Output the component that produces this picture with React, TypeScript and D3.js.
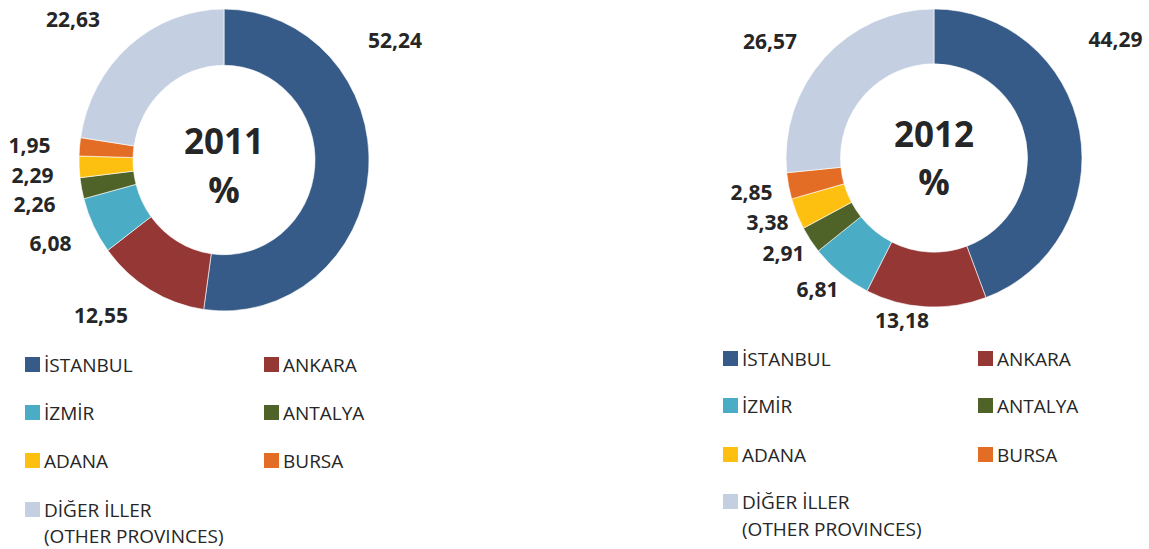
import React from "react";
import * as d3 from "d3";

// ---- data ----
const provinces = ["İSTANBUL", "ANKARA", "İZMİR", "ANTALYA", "ADANA", "BURSA", "DİĞER İLLER"];
const legendSecondLines = ["", "", "", "", "", "", "(OTHER PROVINCES)"];
const years = ["2011", "2012"];
const values2011 = [52.24, 12.55, 6.08, 2.26, 2.29, 1.95, 22.63];
const values2012 = [44.29, 13.18, 6.81, 2.91, 3.38, 2.85, 26.57];
const colors = ["#365b88", "#953735", "#4bacc6", "#4f6228", "#fdc010", "#e46d25", "#c4d0e2"];

// ---- layout ----
const W = 1149;
const H = 549;
const charts = [
  {
    year: years[0],
    values: values2011,
    cx: 224, cy: 160, rOuter: 145, rInner: 91, sy: 1.041,
    yearDy: -6, pctDy: 43,
    labelOffsets: [[171, -112], [-123, 163], [-173.5, 91], [-189.5, 52], [-191.5, 23], [-194.5, -7], [-151, -133]],
    legend: { sq0: 25, tx0: 44, sq1: 264, tx1: 283, rows: [372, 420, 468, 517], line2: 26 },
  },
  {
    year: years[1],
    values: values2012,
    cx: 934, cy: 158, rOuter: 148, rInner: 93.5, sy: 1.007,
    yearDy: -11, pctDy: 37,
    labelOffsets: [[181.5, -111], [-32, 170], [-116.5, 139], [-150.5, 103], [-166.5, 72], [-182.5, 42], [-164, -109]],
    legend: { sq0: 723, tx0: 742, sq1: 978, tx1: 997, rows: [366, 413, 462, 509], line2: 27 },
  },
];

const locale = d3.formatLocale({ decimal: ",", thousands: ".", grouping: [3], currency: ["", ""] });
const fmt = locale.format(".2f");
const color = d3.scaleOrdinal<string, string>().domain(provinces).range(colors);

const FONT = "'Open Sans', 'Noto Sans', sans-serif";
const TEXT = "#262626";

function Donut({ c }: { c: (typeof charts)[number] }) {
  const pie = d3.pie<number>().sort(null).value((d) => d);
  const arcs = pie(c.values);
  const arc = d3.arc<d3.PieArcDatum<number>>().innerRadius(c.rInner).outerRadius(c.rOuter);
  return (
    <g>
      <g transform={`translate(${c.cx},${c.cy}) scale(1,${c.sy})`}>
        {arcs.map((a, i) => (
          <path key={i} d={arc(a) || ""} fill={color(provinces[i])} stroke="#ffffff" strokeWidth={0.6} />
        ))}
      </g>
      <g transform={`translate(${c.cx},${c.cy})`} fontFamily={FONT} fontWeight={700} fill={TEXT}>
        <text x={0} y={c.yearDy} textAnchor="middle" fontSize={35}>{c.year}</text>
        <text x={0} y={c.pctDy} textAnchor="middle" fontSize={35}>%</text>
        {arcs.map((a, i) => (
          <text key={i} x={c.labelOffsets[i][0]} y={c.labelOffsets[i][1]} textAnchor="middle" fontSize={21}>
            {fmt(a.data)}
          </text>
        ))}
      </g>
      <g fontFamily={FONT} fontSize={19} fill={TEXT}>
        {provinces.map((p, i) => {
          const row = Math.floor(i / 2);
          const col = i % 2;
          const base = c.legend.rows[row];
          const sx = col === 0 ? c.legend.sq0 : c.legend.sq1;
          const tx = col === 0 ? c.legend.tx0 : c.legend.tx1;
          return (
            <g key={p}>
              <rect x={sx} y={base - 15} width={15} height={15} fill={color(p)} />
              <text x={tx} y={base}>{p}</text>
              {legendSecondLines[i] ? (
                <text x={tx} y={base + c.legend.line2}>{legendSecondLines[i]}</text>
              ) : null}
            </g>
          );
        })}
      </g>
    </g>
  );
}

export default function App() {
  return (
    <svg
      width={W}
      height={H}
      viewBox={`0 0 ${W} ${H}`}
      style={{ position: "absolute", left: 0, top: 0, background: "#ffffff" }}
    >
      {charts.map((c) => (
        <Donut key={c.year} c={c} />
      ))}
    </svg>
  );
}
